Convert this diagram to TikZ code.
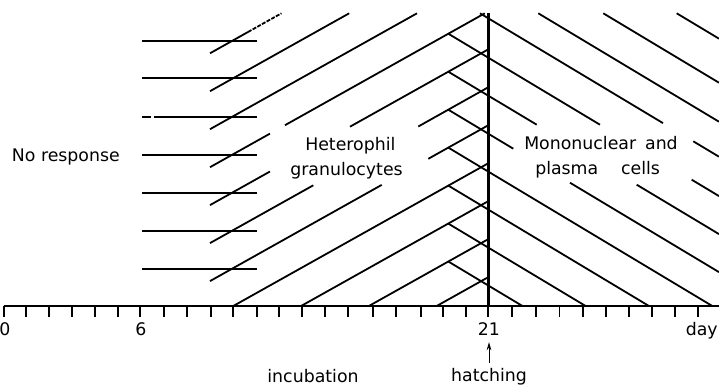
\documentclass[tikz,border=0pt]{standalone}
\usepackage{fontspec}
\setmainfont{DejaVu Sans}
\usetikzlibrary{arrows.meta}
\begin{document}
\begin{tikzpicture}[x=0.75pt,y=-0.75pt,
  ln/.style={line width=1.35pt},
  thickln/.style={line width=2.6pt},
  dashln/.style={line width=1.35pt, dash pattern=on 3pt off 1pt},
  lbl/.style={inner sep=0pt, font=\fontsize{13}{15}\selectfont},
  arr/.style={line width=0.7pt, -{Stealth[length=6pt,width=3.5pt]}},
]
\useasboundingbox (0,0) rectangle (719,386);

% time axis and ticks
\draw[ln] (4,306) -- (719,306);
\foreach \x in {4,26,49,72,95,118,140,164,187,211,233,257,279,302,325,348,
  372.7,396,420.7,443.3,466,488.3,512,536,559.5,582.7,606,629,652,675,698.3}
  \draw[ln] (\x,306) -- (\x,316.5);

% "no response" horizontal strokes
\foreach \y in {41,78,155,193,231,269} \draw[ln] (142,\y) -- (256.5,\y);
\draw[ln] (142,117) -- (151,117) (154,117) -- (256.5,117);

% rising hatch (heterophil granulocytes)
\draw[ln] (210,53.3) -- (248,32);
\draw[dashln] (248,32) -- (281.4,13.3);
\draw[ln] (210,91.2) -- (349.2,13.3);
\draw[ln] (210,129.2) -- (417,13.3);
\draw[ln] (210,167.2) -- (270,133.6) (285,125.2) -- (484.8,13.3);
\draw[ln] (210,205.1) -- (270,171.5) (350,126.7) -- (488,49.5);
\draw[ln] (210,243.1) -- (313.3,185.3) (418.3,126.5) -- (488,87.4);
\draw[ln] (210,281.1) -- (381.7,184.9) (428.3,158.8) -- (488,125.4);
\draw[ln] (233.3,306) -- (488,163.4);
\draw[ln] (301.1,306) -- (488,201.3);
\draw[ln] (368.9,306) -- (488,239.3);
\draw[ln] (436.7,306) -- (488,277.3);

% descending hatch (mononuclear and plasma cells)
\draw[ln] (448.3,33.7) -- (600,124.7) (691.7,179.7) -- (719,196.1);
\draw[ln] (448.3,71.7) -- (536.7,124.7) (636.7,184.7) -- (719,234.1);
\draw[ln] (448.3,109.7) -- (513.3,148.7) (570,182.7) -- (719,272.1);
\draw[ln] (448.3,147.6) -- (712.3,306);
\draw[ln] (448.3,185.6) -- (649,306);
\draw[ln] (448.3,223.6) -- (585.6,306);
\draw[ln] (448.3,261.5) -- (522.5,306);
\draw[ln] (480,13.3) -- (663,123.1) (693.3,141.3) -- (719,156.7);
\draw[ln] (538.3,13.3) -- (719,121.7);
\draw[ln] (603.3,13.3) -- (719,82.7);
\draw[ln] (676.7,13.3) -- (719,38.7);

% hatching day line
\draw[thickln] (488.5,13.3) -- (488.5,306);

% labels
\node[lbl, anchor=base west] (nores) at (11.7,161.7) {No response};
\node[lbl, anchor=base west] (het) at (305,150) {Heterophil};
\node[lbl, anchor=base west] (gran) at (290,175) {granulocytes};
\node[lbl, anchor=base west] (mono) at (524,149.5) {Mononuclear\hspace{0.2em} and};
\node[lbl, anchor=base west] (plas) at (535,174) {plasma\hspace{1em} cells};
\node[lbl, anchor=base] (d0) at (5,335) {0};
\node[lbl, anchor=base] (d6) at (141,335) {6};
\node[lbl, anchor=base] (d21) at (489,335) {21};
\node[lbl, anchor=base west] (days) at (685.5,335.7) {day};
\node[lbl, anchor=base] (incub) at (313,382) {incubation};
\node[lbl, anchor=base] (hatch) at (489,381) {hatching};
\draw[arr, shorten <=3.6pt, shorten >=5.2pt] (hatch.north) -- (d21.south);
\end{tikzpicture}
\end{document}
